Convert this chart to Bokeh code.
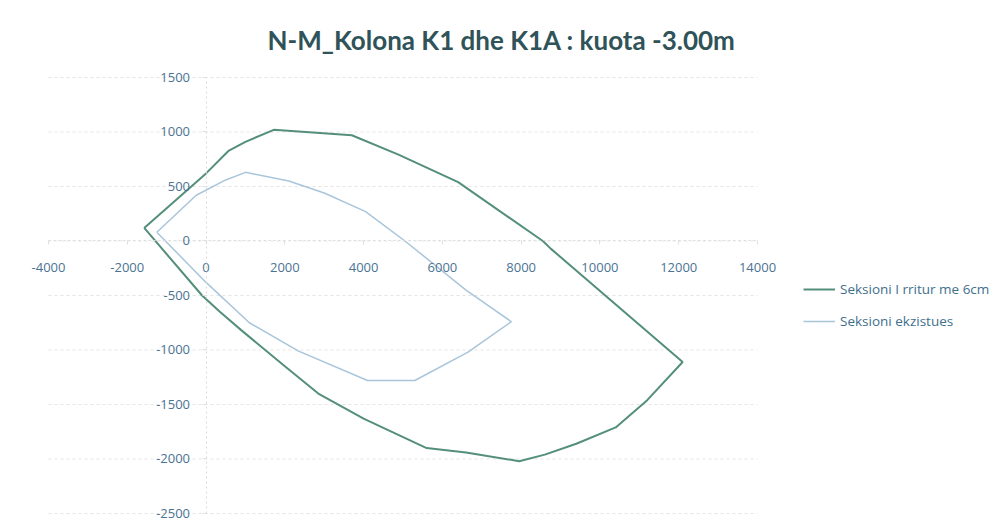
from bokeh.plotting import figure
from bokeh.models import (Range1d, FixedTicker, Legend, LegendItem, ColumnDataSource,
                          PrintfTickFormatter)
from bokeh.embed import file_html
from bokeh.resources import INLINE

title_text = "N-M_Kolona K1 dhe K1A : kuota -3.00m"
x_ticks = [-4000, -2000, 0, 2000, 4000, 6000, 8000, 10000, 12000, 14000]
y_ticks = [-2500, -2000, -1500, -1000, -500, 0, 500, 1000, 1500]

series1_name = "Seksioni I rritur me 6cm"
series1_M = [-1570, 0, 580, 1000, 1720, 3700, 4900, 6400, 8550, 8750, 12100,
             11200, 10400, 9400, 8600, 7950, 6600, 5600, 4000, 2850, 2000,
             900, 350, -100, -1570]
series1_N = [120, 620, 830, 910, 1020, 970, 790, 540, 0, -70, -1110,
             -1460, -1710, -1860, -1960, -2020, -1940, -1900, -1630, -1400, -1150,
             -820, -650, -500, 120]

series2_name = "Seksioni ekzistues"
series2_M = [-1250, -250, 500, 1000, 2100, 3000, 4050, 5050, 6600, 7750,
             6650, 5300, 4100, 2350, 1100, 0, -1250]
series2_N = [80, 420, 560, 630, 550, 440, 270, 0, -450, -740,
             -1020, -1280, -1280, -1010, -750, -380, 80]

x_lo, x_hi = x_ticks[0], x_ticks[-1]
y_lo, y_hi = y_ticks[0], y_ticks[-1]

# frame is larger than the axis span so edge labels and legend are not clipped
p = figure(width=998, height=524, output_backend="svg", toolbar_location=None,
           x_range=Range1d(-5015.5, 20067.7), y_range=Range1d(-2582.6, 1637.6),
           frame_width=988, frame_height=460,
           min_border_left=8, min_border_right=2, min_border_top=62,
           min_border_bottom=2)
p.outline_line_color = None
p.background_fill_color = "white"

p.title.text = title_text
p.title.text_font = "Lato"
p.title.text_font_style = "bold"
p.title.text_font_size = "26px"
p.title.text_color = "#2f5358"
p.title.align = "left"
p.title.offset = 259
p.title.standoff = 14

tick_color = "#4b7393"
for ax in (p.xaxis, p.yaxis):
    ax.fixed_location = 0
    ax.axis_line_color = "#dadada"
    ax.axis_line_dash = "2 3"
    ax.major_tick_line_color = "#e0e0e0"
    ax.minor_tick_line_color = None
    ax.major_tick_in = 0
    ax.major_tick_out = 4
    ax.major_label_text_font = "Open Sans"
    ax.major_label_text_font_size = "13px"
    ax.major_label_text_color = tick_color
    ax.formatter = PrintfTickFormatter(format="%d")
p.xaxis.ticker = FixedTicker(ticks=x_ticks)
p.yaxis.ticker = FixedTicker(ticks=y_ticks)
p.xaxis.bounds = (x_lo, x_hi)
p.yaxis.bounds = (y_lo, y_hi)
p.xaxis.major_label_standoff = 18
p.yaxis.major_label_standoff = 12

p.xgrid.grid_line_color = None
p.ygrid.grid_line_color = None
gsrc = ColumnDataSource(dict(x0=[x_lo] * len(y_ticks), x1=[x_hi] * len(y_ticks),
                             y=y_ticks))
p.segment("x0", "y", "x1", "y", source=gsrc, line_color="#e4e4e4",
          line_dash="3 3", line_width=1)

src1 = ColumnDataSource(dict(x=series1_M, y=series1_N))
src2 = ColumnDataSource(dict(x=series2_M, y=series2_N))
r1 = p.line("x", "y", source=src1, line_color="#548f7a", line_width=2)
r2 = p.line("x", "y", source=src2, line_color="#a9c5da", line_width=1.5)

legend = Legend(items=[LegendItem(label=series1_name, renderers=[r1]),
                       LegendItem(label=series2_name, renderers=[r2])],
                location=(795, 191), label_text_font="Open Sans",
                label_text_font_size="13.5px", label_text_color="#3e6f8c",
                glyph_width=32, spacing=12, border_line_color=None,
                background_fill_alpha=0)
p.add_layout(legend, "center")

open("out.html", "w").write(file_html(p, INLINE))
